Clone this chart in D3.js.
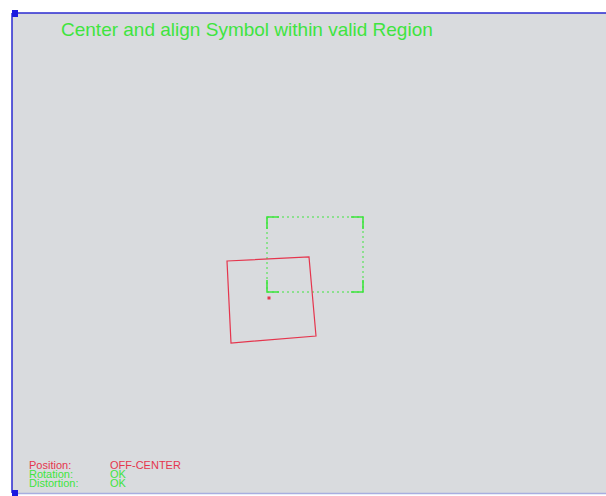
<!DOCTYPE html>
<html>
<head>
<meta charset="utf-8">
<script src="https://cdn.jsdelivr.net/npm/d3@7"></script>
<style>
  body { margin: 0; background: #fff; }
  svg { display: block; }
</style>
</head>
<body>
<svg id="chart" width="606" height="496"></svg>
<script>
// field of view in image units
const fieldX = [0, 594]
const fieldY = [0, 480]
// valid region (x0, y0, x1, y1)
const regionBox = [255, 204, 351, 279]
// detected symbol corners
const symbolX = [215, 297, 304, 219]
const symbolY = [248, 244, 323, 330]
const symbolCenter = [257, 285]
const title = 'Center and align Symbol within valid Region'
const statusNames = ['Position:', 'Rotation:', 'Distortion:']
const statusValues = ['OFF-CENTER', 'OK', 'OK']
const statusOk = [false, true, true]

const svg = d3.select('#chart')
const x = d3.scaleLinear().domain(fieldX).range([12, 606])
const y = d3.scaleLinear().domain(fieldY).range([13, 493])

const green = '#3fe43f'
const red = '#e5354d'

// panel
svg.append('rect').attr('x', x(0)).attr('y', y(0))
  .attr('width', x(fieldX[1]) - x(0)).attr('height', y(fieldY[1]) - y(0))
  .attr('fill', '#d9dbde')
svg.append('line').attr('x1', x(0)).attr('x2', x(fieldX[1])).attr('y1', y(0)).attr('y2', y(0))
  .attr('stroke', '#2a2ad0').attr('stroke-width', 1.5)
svg.append('line').attr('x1', x(0)).attr('x2', x(0)).attr('y1', y(0)).attr('y2', y(fieldY[1]))
  .attr('stroke', '#2a2ad0').attr('stroke-width', 1.5)
svg.append('line').attr('x1', x(0)).attr('x2', x(fieldX[1])).attr('y1', y(fieldY[1]) + 0.5).attr('y2', y(fieldY[1]) + 0.5)
  .attr('stroke', '#a8aee0').attr('stroke-width', 1.5)
svg.append('rect').attr('x', x(0)).attr('y', y(0) - 3).attr('width', 6).attr('height', 7).attr('fill', '#1a1ae0')
svg.append('rect').attr('x', x(0)).attr('y', y(fieldY[1]) - 3).attr('width', 6).attr('height', 6).attr('fill', '#1a1ae0')

// title
svg.append('text').attr('x', 61).attr('y', 36)
  .attr('font-family', 'Liberation Sans, Arial, sans-serif').attr('font-size', 19)
  .attr('fill', green).text(title)

// valid region: dotted box with solid corner brackets
const rx0 = x(regionBox[0]), ry0 = y(regionBox[1]), rx1 = x(regionBox[2]), ry1 = y(regionBox[3])
svg.append('rect').attr('x', rx0).attr('y', ry0).attr('width', rx1 - rx0).attr('height', ry1 - ry0)
  .attr('fill', 'none').attr('stroke', green).attr('stroke-width', 1).attr('stroke-dasharray', '2,3')
const arm = 12
const corners = [[rx0, ry0, 1, 1], [rx1, ry0, -1, 1], [rx1, ry1, -1, -1], [rx0, ry1, 1, -1]]
svg.selectAll('path.corner').data(corners).join('path').attr('class', 'corner')
  .attr('d', d => `M${d[0] + d[2] * arm},${d[1]}H${d[0]}V${d[1] + d[3] * arm}`)
  .attr('fill', 'none').attr('stroke', green).attr('stroke-width', 1.6)

// symbol outline
const pts = symbolX.map((v, i) => [x(v), y(symbolY[i])])
svg.append('path').attr('d', d3.line()(pts) + 'Z')
  .attr('fill', 'none').attr('stroke', red).attr('stroke-width', 1.2)
svg.append('rect').attr('x', x(symbolCenter[0]) - 1.5).attr('y', y(symbolCenter[1]) - 1.5)
  .attr('width', 3).attr('height', 3).attr('fill', red)

// status (lines overlap slightly, as in the original)
const st = svg.append('g').attr('font-family', 'Liberation Sans, Arial, sans-serif').attr('font-size', 11)
statusNames.forEach((n, i) => {
  const c = statusOk[i] ? green : red
  st.append('text').attr('x', 29).attr('y', 469 + i * 9).attr('fill', c).text(n)
  st.append('text').attr('x', 110).attr('y', 469 + i * 9).attr('fill', c).text(statusValues[i])
})
</script>
</body>
</html>
